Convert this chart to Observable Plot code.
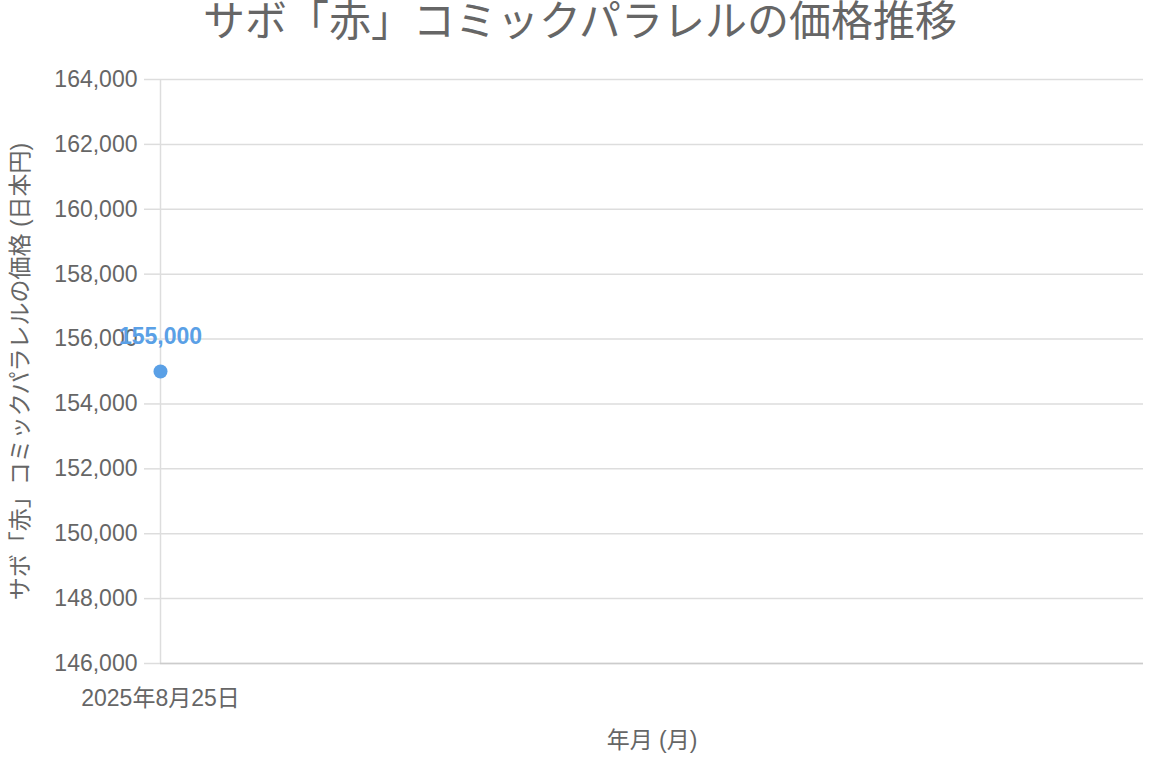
<!DOCTYPE html>
<html><head><meta charset="utf-8">
<script src="https://cdn.jsdelivr.net/npm/d3@7"></script>
<script src="https://cdn.jsdelivr.net/npm/@observablehq/plot@0.6"></script>
<style>
body{margin:0;background:#fff;font-family:"Liberation Sans","Noto Sans CJK JP",sans-serif;}
#title{height:50px;line-height:44px;text-align:center;font-size:42px;color:#666;width:1160px;white-space:nowrap;}
</style></head><body>
<div id="title">サボ「赤」コミックパラレルの価格推移</div>
<div id="chart"></div>
<script>
const dates = ["2025年8月25日"];
const prices = [155000];
const yTicks = [146000,148000,150000,152000,154000,156000,158000,160000,162000,164000];
const yLabel = "サボ「赤」コミックパラレルの価格 (日本円)";
const xLabel = "年月 (月)";

const data = dates.map((d,i)=>({date:d, price:prices[i]}));
const fmt = d3.format(",");
const font = "Liberation Sans, Noto Sans CJK JP, sans-serif";

const chart = Plot.plot({
  width:1160, height:716,
  marginTop:29, marginBottom:103, marginLeft:160, marginRight:17,
  style:{fontFamily:font, fontSize:"23px", color:"#666", background:"#fff"},
  x:{type:"point", domain:dates, padding:0, align:0},
  y:{domain:[146000,164000]},
  marks:[
    Plot.gridY(yTicks,{stroke:"#ddd", strokeOpacity:1, strokeWidth:1.5}),
    Plot.gridX(dates,{stroke:"#ddd", strokeOpacity:1, strokeWidth:1.5}),
    Plot.axisY(yTicks,{tickSize:16, tickPadding:7, stroke:"#ddd", strokeOpacity:1, strokeWidth:1.5, tickFormat:fmt, fill:"#666", fontSize:23, label:null}),
    Plot.axisX(dates,{tickSize:0, tickPadding:26, fill:"#666", fontSize:23, label:null}),
    Plot.ruleY([146000],{stroke:"#ccc", strokeWidth:1.5}),
    Plot.dot(data,{x:"date", y:"price", r:7, fill:"#5aa0e6", stroke:"none"}),
    Plot.text(data,{x:"date", y:"price", text:d=>fmt(d.price), dy:-35, fill:"#5aa0e6", fontWeight:"bold", fontSize:23}),
    Plot.text([yLabel],{frameAnchor:"left", textAnchor:"middle", dx:-140, rotate:-90, fill:"#666", fontSize:23}),
    Plot.text([xLabel],{frameAnchor:"bottom", dy:84, fill:"#666", fontSize:23})
  ]
});
document.getElementById("chart").appendChild(chart);
</script></body></html>
